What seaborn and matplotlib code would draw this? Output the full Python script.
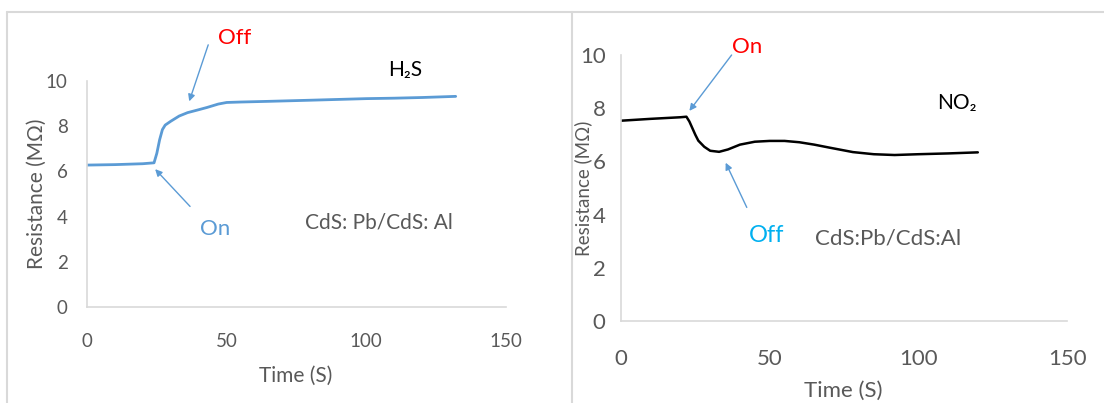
import numpy as np
import pandas as pd
import seaborn as sns
import matplotlib.pyplot as plt
from matplotlib.lines import Line2D

# H2S response (left panel)
h2s_time = [0, 10, 20, 24, 25, 26, 27, 28, 30, 33, 36, 40, 43, 47, 50, 55, 65, 80, 100, 110, 120, 132]
h2s_res = [6.28, 6.3, 6.34, 6.38, 6.8, 7.4, 7.85, 8.05, 8.22, 8.45, 8.6, 8.73, 8.83, 8.98, 9.05, 9.07,
           9.1, 9.15, 9.22, 9.24, 9.27, 9.32]

# NO2 response (right panel)
no2_time = [0, 10, 20, 22, 23, 24, 25, 26, 28, 30, 33, 36, 40, 45, 50, 55, 60, 65, 70, 78, 85, 92, 100, 110, 120]
no2_res = [7.53, 7.6, 7.66, 7.68, 7.5, 7.25, 7.0, 6.78, 6.55, 6.4, 6.36, 6.45, 6.63, 6.74, 6.77, 6.77,
           6.72, 6.63, 6.52, 6.35, 6.27, 6.24, 6.27, 6.3, 6.34]

x_ticks = [0, 50, 100, 150]
y_ticks = [0, 2, 4, 6, 8, 10]

sns.set_style("white")
plt.rcParams['font.family'] = ['Lato', 'DejaVu Sans']

fig = plt.figure(figsize=(11.04, 4.03), dpi=100)
ax1 = fig.add_axes([0.0788, 0.2382, 0.3795, 0.5608])
ax2 = fig.add_axes([0.5625, 0.2035, 0.404, 0.660])

BLUE = '#5b9bd5'
GRAY = '#595959'
AXIS = '#d9d9d9'

df1 = pd.DataFrame({'t': h2s_time, 'r': h2s_res})
df2 = pd.DataFrame({'t': no2_time, 'r': no2_res})
sns.lineplot(data=df1, x='t', y='r', ax=ax1, color=BLUE, lw=2.0)
sns.lineplot(data=df2, x='t', y='r', ax=ax2, color='black', lw=1.8)

for ax, tsize, lsize, ylsize, xpad, ypad in [(ax1, 13.5, 15, 15, 19, 14), (ax2, 16, 16, 13.5, 20, 11)]:
    ax.set_xlim(0, 150)
    ax.set_ylim(0, 10)
    ax.set_xticks(x_ticks)
    ax.set_yticks(y_ticks)
    ax.tick_params(axis='x', length=0, pad=xpad, labelsize=tsize, labelcolor=GRAY)
    ax.tick_params(axis='y', length=0, pad=ypad, labelsize=tsize, labelcolor=GRAY)
    for s in ['top', 'right']:
        ax.spines[s].set_visible(False)
    for s in ['left', 'bottom']:
        ax.spines[s].set_color(AXIS)
        ax.spines[s].set_linewidth(1.2)
    ax.set_xlabel('Time (S)', fontsize=lsize, color=GRAY)
    ax.set_ylabel('Resistance (MΩ)', fontsize=ylsize, color=GRAY)

ax1.xaxis.set_label_coords(0.499, -0.26)
ax1.yaxis.set_label_coords(-0.095, 0.5)
ax2.xaxis.set_label_coords(0.498, -0.225)
ax2.yaxis.set_label_coords(-0.065, 0.5)

arrow = dict(arrowstyle='-|>', color=BLUE, lw=1.0, mutation_scale=10, shrinkA=0, shrinkB=0)

# left panel annotations
ax1.text(53, 11.9, 'Off', color='red', fontsize=16, ha='center', va='center')
ax1.annotate('', xy=(36.6, 9.1), xytext=(43.4, 11.6), arrowprops=arrow)
ax1.text(45.9, 3.45, 'On', color=BLUE, fontsize=16, ha='center', va='center')
ax1.annotate('', xy=(24.4, 6.1), xytext=(36.9, 4.45), arrowprops=arrow)
ax1.text(114, 10.5, 'H₂S', color='black', fontsize=15, ha='center', va='center')
ax1.text(104.7, 3.72, 'CdS: Pb/CdS: Al', color=GRAY, fontsize=15, ha='center', va='center')

# right panel annotations
ax2.text(42.4, 10.3, 'On', color='red', fontsize=16, ha='center', va='center', clip_on=False)
ax2.annotate('', xy=(23, 7.9), xytext=(37.2, 10.0), arrowprops=arrow)
ax2.text(49, 3.2, 'Off', color='#00b0f0', fontsize=17, ha='center', va='center')
ax2.annotate('', xy=(35.2, 5.95), xytext=(42.3, 4.27), arrowprops=arrow)
ax2.text(112.9, 8.18, 'NO₂', color='black', fontsize=15, ha='center', va='center')
ax2.text(89.9, 3.11, 'CdS:Pb/CdS:Al', color=GRAY, fontsize=16, ha='center', va='center')

# panel frames
top = 1 - 11.5 / 403
fig.add_artist(Line2D([7 / 1104, 1], [top, top], color=AXIS, lw=1.5))
fig.add_artist(Line2D([7 / 1104, 7 / 1104], [0, top], color=AXIS, lw=1.5))
fig.add_artist(Line2D([572 / 1104, 572 / 1104], [0, top], color=AXIS, lw=1.5))

fig.savefig('out.png', dpi=100)
